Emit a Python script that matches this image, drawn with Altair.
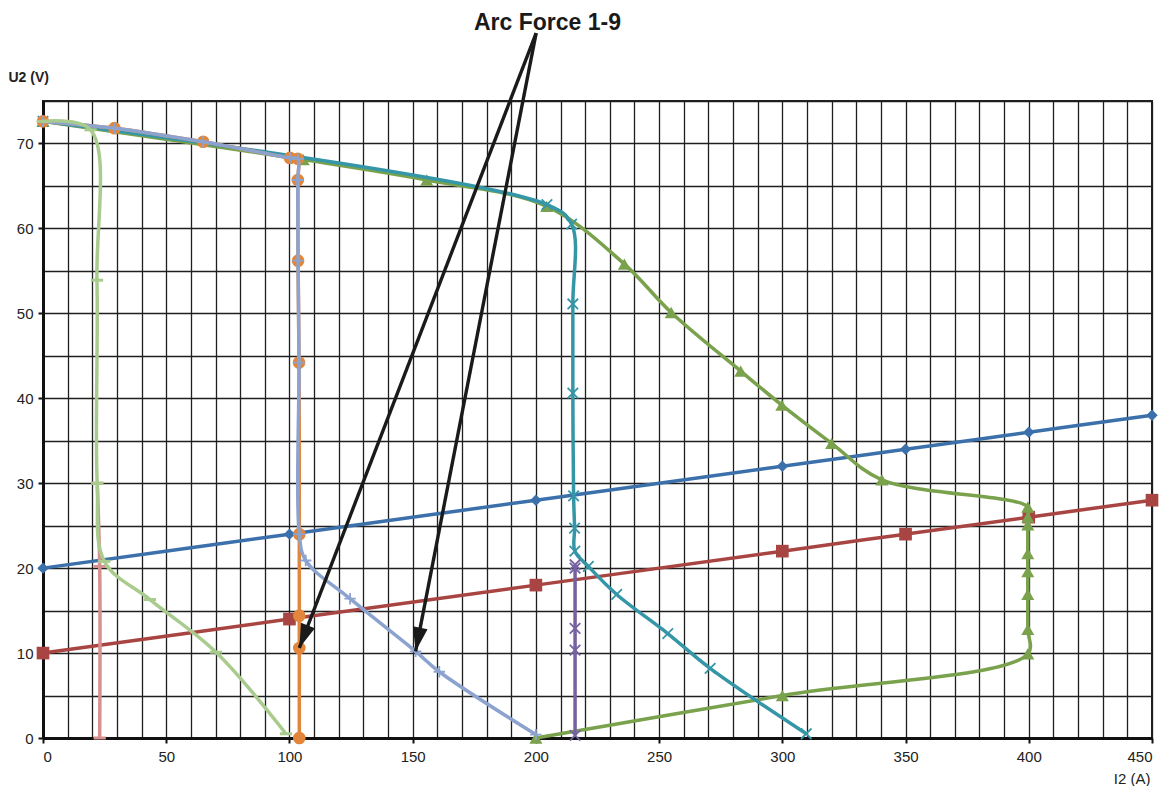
import math
import altair as alt
import pandas as pd

# ---------------- data ----------------
blue_x = [0, 100, 200, 300, 350, 400, 450]
blue_y = [20, 24, 28, 32, 34, 36, 38]

red_x = [0, 100, 200, 300, 350, 400, 450]
red_y = [10, 14, 18, 22, 24, 26, 28]

green_x = [0, 105.6, 155.7, 204.4, 235.9, 254.9, 283.1, 299.8, 320, 340.4,
           399.6, 399.6, 399.6, 399.6, 399.6, 399.6, 399.6, 399.6, 300, 200]
green_y = [72.6, 68.1, 65.7, 62.6, 55.8, 50.1, 43.2, 39.2, 34.7, 30.4,
           27.2, 26.0, 25.1, 21.7, 19.6, 16.9, 12.8, 9.9, 5, 0]

teal_x = [0, 204.5, 214.5, 215, 215, 215.3, 215.7, 215.8, 221.3, 232.8, 253.5, 270.7, 309.7]
teal_y = [72.6, 62.8, 60.5, 51.1, 40.6, 28.5, 24.7, 22.0, 20.2, 16.9, 12.3, 8.2, 0.5]

purple_x = [215.9, 215.9, 215.9, 215.9, 215.9]
purple_y = [20.4, 20.0, 12.9, 10.35, 0.3]

orange_x = [0, 29, 65, 100.2, 103.4, 103.4, 103.5, 103.9, 104, 104, 104, 104]
orange_y = [72.6, 71.8, 70.2, 68.3, 68.2, 65.7, 56.2, 44.2, 24, 14.4, 10.6, 0]

lav_x = [0, 29, 65, 100.2, 103.4, 103.4, 103.5, 103.9, 104, 106.6, 124.6, 151.2, 160.8, 200]
lav_y = [72.6, 71.8, 70.2, 68.3, 68.2, 65.7, 56.2, 44.2, 24, 20.9, 16.4, 10.2, 7.8, 0.4]

pink_x = [22, 23, 23]
pink_y = [30, 20.2, 0]

lgreen_x = [0, 19.3, 21.9, 22, 24.9, 43.4, 70.2, 98.6]
lgreen_y = [72.6, 71.6, 53.9, 30, 20.8, 16.3, 10.1, 0.5]

# annotation
title_text = ["Arc Force 1-9"]
title_x = [204.7]
title_y = [83.4]
arrow_x0 = [200.1, 200.1]
arrow_y0 = [83.0, 83.0]
arrow_x1 = [104.0, 151.2]
arrow_y1 = [10.6, 10.2]

# ---------------- layout ----------------
W, H = 1109, 637
X_MAX, Y_MAX = 450, 75
FONT = "Liberation Sans"

xscale = alt.Scale(domain=[0, X_MAX], nice=False, zero=False)
yscale = alt.Scale(domain=[0, Y_MAX], nice=False, zero=False)

xaxis = alt.Axis(
    values=list(range(0, 451, 10)),
    labelExpr="datum.value % 50 === 0 ? datum.label : ''",
    tickOpacity={"condition": {"test": "datum.value % 50 === 0", "value": 1}, "value": 0},
    grid=True, gridColor="#1f1f1f", gridWidth=1.3,
    domainColor="#111", domainWidth=3,
    tickColor="#111", tickSize=5, tickWidth=2,
    labelFont=FONT, labelFontSize=15, labelColor="#222", labelPadding=6,
    title="I2 (A)", titleFont=FONT, titleFontSize=15, titleFontWeight="normal",
    titleColor="#222", titleAngle=0, titleAlign="right", titleBaseline="middle",
    titleX=1107, titleY=40,
)
yaxis = alt.Axis(
    values=list(range(0, 76, 5)),
    labelExpr="datum.value % 10 === 0 ? datum.label : ''",
    tickOpacity={"condition": {"test": "datum.value % 10 === 0", "value": 1}, "value": 0},
    grid=True, gridColor="#1f1f1f", gridWidth=1.3,
    domainColor="#111", domainWidth=3,
    tickColor="#111", tickSize=5, tickWidth=2,
    labelFont=FONT, labelFontSize=15, labelColor="#222", labelPadding=5,
    title="U2 (V)", titleFont=FONT, titleFontSize=14, titleFontWeight="bold",
    titleColor="#222", titleAngle=0, titleAlign="left", titleBaseline="middle",
    titleX=-35, titleY=-24,
)

X = alt.X("x:Q", scale=xscale, axis=xaxis)
Y = alt.Y("y:Q", scale=yscale, axis=yaxis)

CROSS = "M-1,-1L1,1M-1,1L1,-1"
PLUS = "M-1,0L1,0M0,-1L0,1"
DASH = "M-1,0L1,0"

series = [
    # name, xs, ys, color, shape, filled, size, strokeWidth
    ("blue", blue_x, blue_y, "#3B70AB", "diamond", True, 130, 0),
    ("red", red_x, red_y, "#A84542", "square", True, 160, 0),
    ("green", green_x, green_y, "#7AA24D", "triangle-up", True, 170, 0),
    ("teal", teal_x, teal_y, "#3596A8", CROSS, False, 110, 1.8),
    ("purple", purple_x, purple_y, "#7561A0", CROSS, False, 110, 1.8),
    ("orange", orange_x, orange_y, "#E2863B", "circle", True, 160, 0),
    ("lavender", lav_x, lav_y, "#8CA3CF", PLUS, False, 130, 1.8),
    ("pink", pink_x, pink_y, "#D69090", DASH, False, 150, 3),
    ("lgreen", lgreen_x, lgreen_y, "#A9CC8E", DASH, False, 150, 3),
]

layers = []
for name, xs, ys, col, shape, filled, size, sw in series:
    df = pd.DataFrame({"x": xs, "y": ys, "i": list(range(len(xs)))})
    line = alt.Chart(df).mark_line(
        color=col, strokeWidth=3.5, interpolate="catmull-rom"
    ).encode(x=X, y=Y, order="i:Q")
    if filled:
        pts = alt.Chart(df).mark_point(
            shape=shape, filled=True, fill=col, size=size, opacity=1, strokeWidth=0
        ).encode(x=X, y=Y)
    else:
        pts = alt.Chart(df).mark_point(
            shape=shape, filled=False, stroke=col, size=size, opacity=1, strokeWidth=sw
        ).encode(x=X, y=Y)
    layers += [line, pts]

# arrows
sx, sy = W / X_MAX, H / Y_MAX
tip_rows = []
for x0, y0, x1, y1 in zip(arrow_x0, arrow_y0, arrow_x1, arrow_y1):
    dxp = (x1 - x0) * sx
    dyp = (y0 - y1) * sy
    ang = math.degrees(math.atan2(-dxp, dyp)) % 360
    tip_rows.append({"x": x1, "y": y1, "ang": ang})

shaft_df = pd.DataFrame({"x": arrow_x0, "y": arrow_y0, "x2": arrow_x1, "y2": arrow_y1})
shafts = alt.Chart(shaft_df).mark_rule(color="#1a1a1a", strokeWidth=3.4).encode(
    x=X, y=Y, x2="x2:Q", y2="y2:Q"
)
HEAD = "M0,0L-0.62,-2L0.62,-2Z"
heads = alt.Chart(pd.DataFrame(tip_rows)).mark_point(
    shape=HEAD, filled=True, fill="#1a1a1a", size=580, opacity=1, strokeWidth=0
).encode(x=X, y=Y, angle=alt.Angle("ang:Q", scale=None))

title_df = pd.DataFrame({"x": title_x, "y": title_y, "t": title_text})
title = alt.Chart(title_df).mark_text(
    font=FONT, fontSize=23, fontWeight="bold", color="#1a1a1a",
    align="center", baseline="alphabetic"
).encode(x=X, y=Y, text="t:N")

layers += [shafts, heads, title]

chart = alt.layer(*layers).properties(
    width=W, height=H,
    autosize=alt.AutoSizeParams(type="none"),
    padding={"left": 35, "top": 93, "right": 10, "bottom": 48},
    background="white",
).configure_view(stroke="#222", strokeWidth=2)

chart.save("out.html", embed_options={"renderer": "svg", "actions": False})
